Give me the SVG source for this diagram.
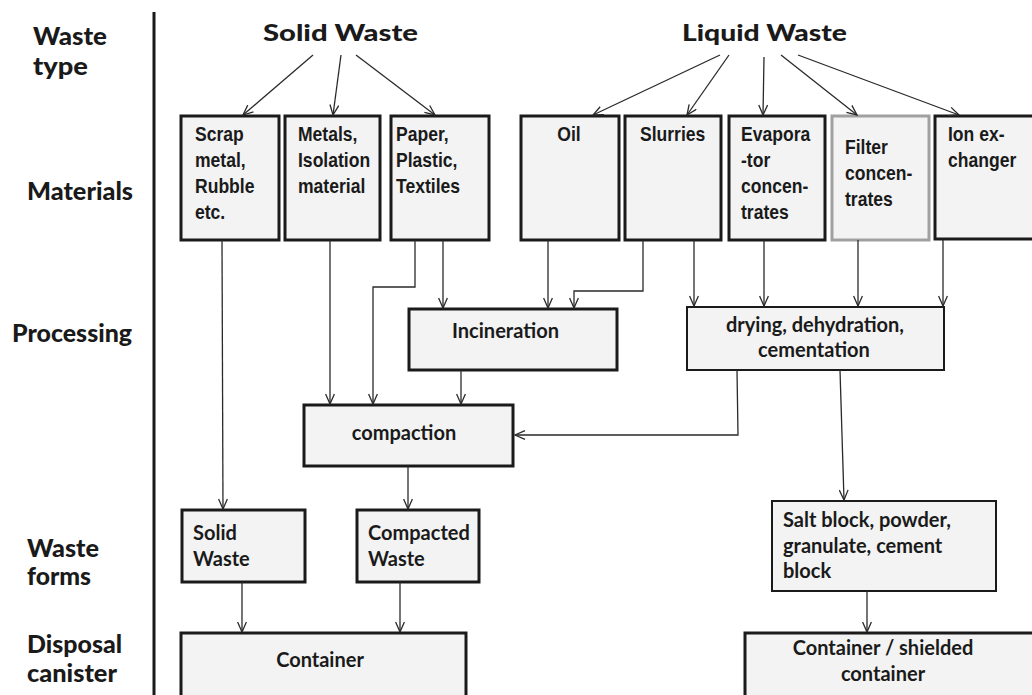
<svg xmlns="http://www.w3.org/2000/svg" width="1032" height="695" viewBox="0 0 1032 695">
<defs>
<style>
.row{font-family:Lato,"DejaVu Sans",sans-serif;font-weight:900;font-size:24px;fill:#1a1a1a}
.head{font-family:Lato,"DejaVu Sans",sans-serif;font-weight:900;font-size:23px;fill:#1a1a1a}
.box{fill:#f3f3f3;stroke:#1a1a1a;stroke-width:3}
.thin{stroke-width:2}
.grey{stroke:#a0a0a0}
.mat{font-family:"Liberation Sans",Arial,sans-serif;font-weight:bold;font-size:19.5px;fill:#1a1a1a}
.prc{font-family:Lato,"Open Sans",sans-serif;font-weight:bold;font-size:20px;fill:#1a1a1a}
.con{fill:none;stroke:#2a2a2a;stroke-width:1.3}
</style>
<marker id="ah" viewBox="0 0 12 10" markerWidth="12" markerHeight="10" refX="11" refY="5" orient="auto" markerUnits="userSpaceOnUse">
<path d="M1,0.6 L11,5 L1,9.4" fill="none" stroke="#2a2a2a" stroke-width="1.3"/>
</marker>
</defs>
<rect width="1032" height="695" fill="#fff"/>

<g id="row-labels">
<text class="row" x="33" y="45" textLength="74" lengthAdjust="spacingAndGlyphs">Waste</text>
<text class="row" x="33" y="75" textLength="55" lengthAdjust="spacingAndGlyphs">type</text>
<text class="row" x="27" y="200" textLength="106" lengthAdjust="spacingAndGlyphs">Materials</text>
<text class="row" x="12" y="342" textLength="120" lengthAdjust="spacingAndGlyphs">Processing</text>
<text class="row" x="27" y="557" textLength="72" lengthAdjust="spacingAndGlyphs">Waste</text>
<text class="row" x="27" y="585" textLength="64" lengthAdjust="spacingAndGlyphs">forms</text>
<text class="row" x="27" y="653" textLength="95" lengthAdjust="spacingAndGlyphs">Disposal</text>
<text class="row" x="27" y="682" textLength="90" lengthAdjust="spacingAndGlyphs">canister</text>
<line x1="154" y1="12" x2="154" y2="695" stroke="#1a1a1a" stroke-width="3"/>
</g>

<g id="solid-waste"><text class="head" x="263" y="41" textLength="155" lengthAdjust="spacingAndGlyphs">Solid Waste</text></g>
<g id="liquid-waste"><text class="head" x="682" y="41" textLength="165" lengthAdjust="spacingAndGlyphs">Liquid Waste</text></g>

<g id="scrap"><rect class="box" x="181" y="116" width="98" height="124"/>
<text class="mat" transform="translate(195,141) scale(0.9,1)"><tspan x="0" y="0">Scrap</tspan><tspan x="0" y="26">metal,</tspan><tspan x="0" y="52">Rubble</tspan><tspan x="0" y="78">etc.</tspan></text></g>
<g id="metals"><rect class="box" x="285" y="116" width="95" height="124"/>
<text class="mat" transform="translate(298,141) scale(0.9,1)"><tspan x="0" y="0">Metals,</tspan><tspan x="0" y="26">Isolation</tspan><tspan x="0" y="52">material</tspan></text></g>
<g id="paper"><rect class="box" x="391" y="116" width="98" height="124"/>
<text class="mat" transform="translate(396,141) scale(0.9,1)"><tspan x="0" y="0">Paper,</tspan><tspan x="0" y="26">Plastic,</tspan><tspan x="0" y="52">Textiles</tspan></text></g>
<g id="oil"><rect class="box" x="521" y="116" width="98" height="124"/>
<text class="mat" text-anchor="middle" transform="translate(569,141) scale(0.9,1)">Oil</text></g>
<g id="slurries"><rect class="box" x="625" y="116" width="96" height="124"/>
<text class="mat" transform="translate(640,141) scale(0.9,1)">Slurries</text></g>
<g id="evaporator"><rect class="box" x="729" y="116" width="96" height="124"/>
<text class="mat" transform="translate(741,141) scale(0.9,1)"><tspan x="0" y="0">Evapora</tspan><tspan x="0" y="26">-tor</tspan><tspan x="0" y="52">concen-</tspan><tspan x="0" y="78">trates</tspan></text></g>
<g id="filter"><rect class="box grey" x="832" y="116" width="97" height="124"/>
<text class="mat" transform="translate(845,154) scale(0.9,1)"><tspan x="0" y="0">Filter</tspan><tspan x="0" y="26">concen-</tspan><tspan x="0" y="52">trates</tspan></text></g>
<g id="ion"><rect class="box" x="935" y="116" width="100" height="123"/>
<text class="mat" transform="translate(948,141) scale(0.9,1)"><tspan x="0" y="0">Ion ex-</tspan><tspan x="0" y="26">changer</tspan></text></g>

<g id="incineration"><rect class="box" x="409" y="309" width="208" height="61"/>
<text class="prc" x="452" y="338" textLength="107" lengthAdjust="spacingAndGlyphs">Incineration</text></g>
<g id="drying"><rect class="box thin" x="687" y="307" width="257" height="63"/>
<text class="prc" text-anchor="middle" x="815" y="332">drying, dehydration,</text>
<text class="prc" text-anchor="middle" x="814" y="357">cementation</text></g>
<g id="compaction"><rect class="box" x="304" y="405" width="209" height="61"/>
<text class="prc" text-anchor="middle" x="404" y="440">compaction</text></g>
<g id="solid-form"><rect class="box" x="182" y="510" width="123" height="72"/>
<text class="prc" x="193" y="540">Solid</text><text class="prc" x="193" y="566">Waste</text></g>
<g id="compacted"><rect class="box" x="357" y="510" width="122" height="72"/>
<text class="prc" x="368" y="540">Compacted</text><text class="prc" x="368" y="566">Waste</text></g>
<g id="salt"><rect class="box thin" x="772" y="501" width="224" height="90"/>
<text class="prc" x="783" y="527">Salt block, powder,</text><text class="prc" x="783" y="553">granulate, cement</text><text class="prc" x="783" y="578">block</text></g>
<g id="container"><rect class="box" x="181" y="633" width="285" height="70"/>
<text class="prc" text-anchor="middle" x="320" y="667">Container</text></g>
<g id="container-shielded"><rect class="box" x="745" y="633" width="290" height="70"/>
<text class="prc" text-anchor="middle" x="883" y="655">Container / shielded</text>
<text class="prc" text-anchor="middle" x="883" y="681">container</text></g>

<g id="connectors">
<path class="con" d="M313,55 L243,115" marker-end="url(#ah)"/>
<path class="con" d="M341,55 L333,115" marker-end="url(#ah)"/>
<path class="con" d="M356,55 L435,115" marker-end="url(#ah)"/>
<path class="con" d="M720,55 L593,115" marker-end="url(#ah)"/>
<path class="con" d="M729,55 L687,115" marker-end="url(#ah)"/>
<path class="con" d="M764,57 L763,115" marker-end="url(#ah)"/>
<path class="con" d="M781,55 L857,115" marker-end="url(#ah)"/>
<path class="con" d="M798,55 L959,115" marker-end="url(#ah)"/>
<path class="con" d="M222,240 L223,509" marker-end="url(#ah)"/>
<path class="con" d="M330,240 L330,404" marker-end="url(#ah)"/>
<path class="con" d="M415,240 L415,287 L373,287 L373,404" marker-end="url(#ah)"/>
<path class="con" d="M443,240 L443,308" marker-end="url(#ah)"/>
<path class="con" d="M548,240 L548,308" marker-end="url(#ah)"/>
<path class="con" d="M643,240 L643,291 L574,291 L574,308" marker-end="url(#ah)"/>
<path class="con" d="M694,240 L694,306" marker-end="url(#ah)"/>
<path class="con" d="M764,240 L764,306" marker-end="url(#ah)"/>
<path class="con" d="M858,240 L858,306" marker-end="url(#ah)"/>
<path class="con" d="M943,240 L943,306" marker-end="url(#ah)"/>
<path class="con" d="M461,370 L461,404" marker-end="url(#ah)"/>
<path class="con" d="M737,370 L738,435 L515,435" marker-end="url(#ah)"/>
<path class="con" d="M840,370 L844,500" marker-end="url(#ah)"/>
<path class="con" d="M408,466 L408,509" marker-end="url(#ah)"/>
<path class="con" d="M242,582 L242,632" marker-end="url(#ah)"/>
<path class="con" d="M400,582 L400,632" marker-end="url(#ah)"/>
<path class="con" d="M867,591 L867,632" marker-end="url(#ah)"/>
</g>
</svg>
